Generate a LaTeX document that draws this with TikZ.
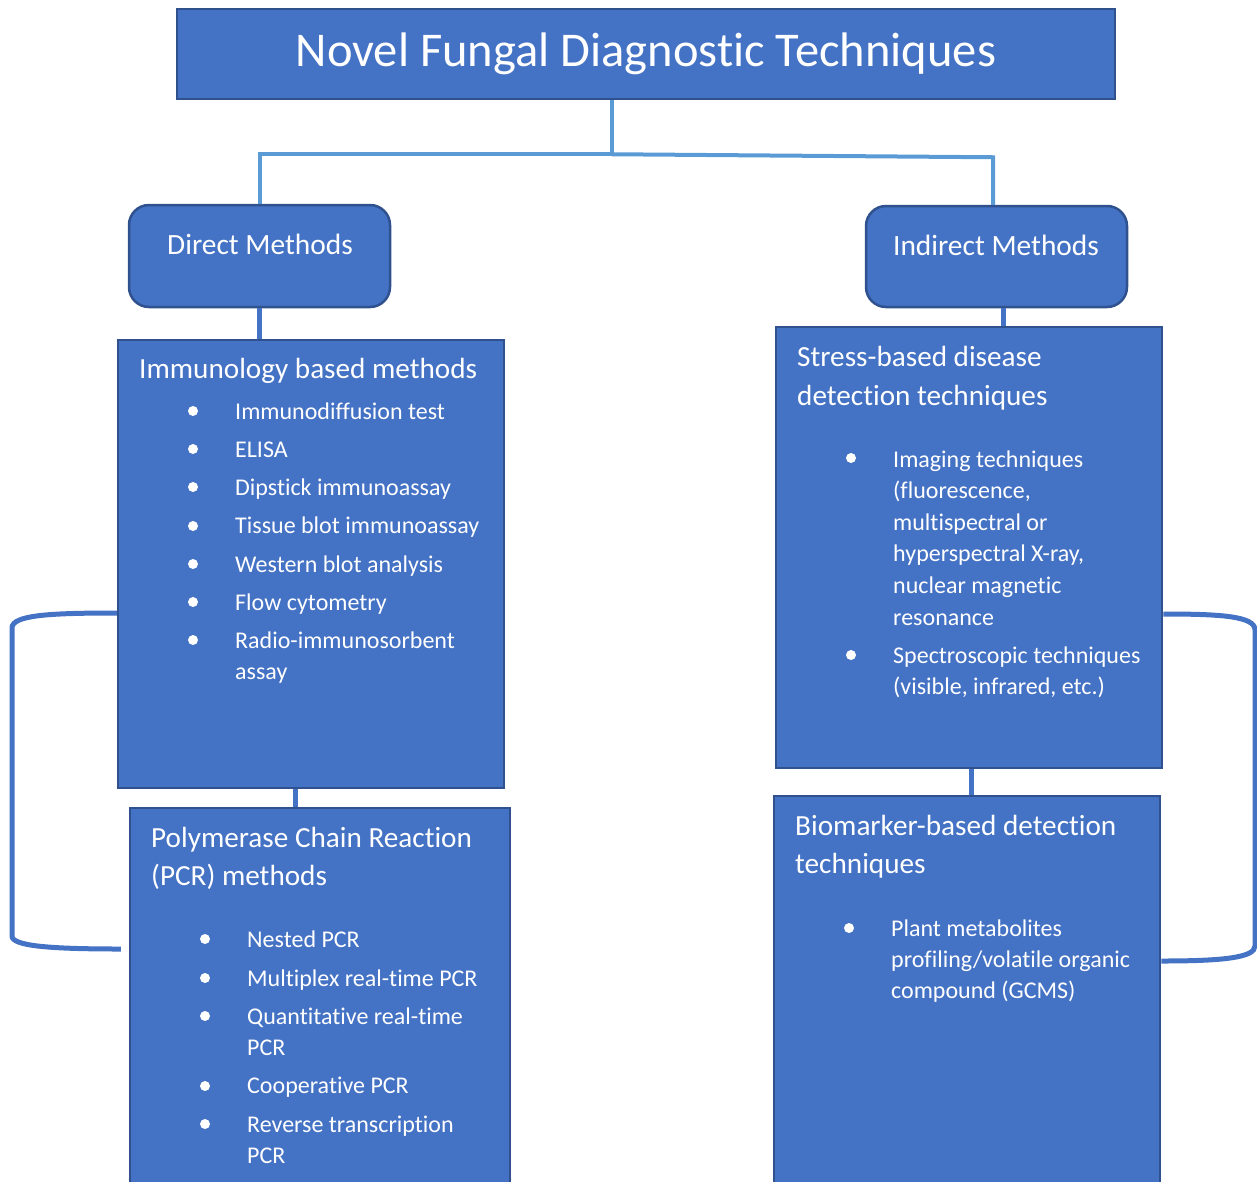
\documentclass[tikz,border=0pt]{standalone}
\usepackage{fontspec}
\setmainfont{Carlito}[RawFeature={-liga;-calt;-clig;-dlig}]
\definecolor{boxfill}{HTML}{4472C4}
\definecolor{boxline}{HTML}{2F528F}
\definecolor{topline}{HTML}{5B9BD5}
\tikzset{
  box/.style={draw=boxline, line width=2.5pt, fill=boxfill, inner sep=0pt},
  rbox/.style={box, rounded corners=20pt},
  ttl/.style={text=white, inner sep=0pt, anchor=base, font=\fontsize{48.5}{52}\selectfont},
  sub/.style={text=white, inner sep=0pt, anchor=base, font=\fontsize{29.4}{33}\selectfont},
  head/.style={text=white, inner sep=0pt, anchor=base west, font=\fontsize{29.2}{33}\selectfont},
  item/.style={text=white, inner sep=0pt, anchor=base west, font=\fontsize{24}{28}\selectfont},
  bullet/.style={circle, fill=white, inner sep=0pt, minimum size=10pt},
  tconn/.style={draw=topline, line width=4pt},
  conn/.style={draw=boxfill, line width=5pt},
  brk/.style={draw=boxfill, line width=5pt}
}
\begin{document}
\begin{tikzpicture}[x=1pt,y=-1pt]
\useasboundingbox (0,0) rectangle (1257,1181);
\clip (0,0) rectangle (1257,1181);
% boxes
\node[box, minimum width=938pt, minimum height=90pt] (title) at (646,54) {};
\node[rbox, minimum width=261pt, minimum height=102pt] (direct) at (259.5,256) {};
\node[rbox, minimum width=261pt, minimum height=101pt] (indirect) at (996.5,256.5) {};
\node[box, minimum width=386pt, minimum height=448pt] (imm) at (311,564) {};
\node[box, minimum width=380pt, minimum height=392pt] (pcr) at (320,1004) {};
\node[box, minimum width=386pt, minimum height=441pt] (stress) at (969,547.5) {};
\node[box, minimum width=386pt, minimum height=404pt] (bio) at (967,998) {};
% connectors
\draw[tconn] ([xshift=-34pt]title.south) -- ++(0,54) coordinate (hub);
\draw[tconn] (hub) -- ++(-352,0) coordinate (hubl) -- (hubl |- direct.north);
\draw[tconn] (hub) -- ++(381,3) coordinate (hubr) -- (hubr |- indirect.north);
\draw[conn] (direct.south) -- (direct.south |- imm.north);
\draw[conn] ([xshift=6.5pt]indirect.south) -- ([xshift=6.5pt]indirect.south |- stress.north);
\draw[conn] ([xshift=-16pt]imm.south) -- ([xshift=-16pt]imm.south |- pcr.north);
\draw[conn] ([xshift=2pt]stress.south) -- ([xshift=2pt]stress.south |- bio.north);
% brackets
\draw[brk] ([yshift=-49pt]imm.west) .. controls (50,613) and (12,615) .. (12,628) -- (12,936) .. controls (12,946) and (50,949) .. ([xshift=-8pt,yshift=55pt]pcr.west);
\draw[brk] ([yshift=-66.5pt]stress.east) .. controls (1220,614) and (1255,616) .. (1255,630) -- (1255,946) .. controls (1255,958) and (1220,961) .. ([yshift=37pt]bio.east);
% texts
\node[ttl] (ttext) at (646,66) {Novel Fungal Diagnostic Techniques};
\node[sub] (dtext) at (260,254) {Direct Methods};
\node[sub] (itext) at (996,255) {Indirect Methods};
\node[head] (immh) at (139,378) {Immunology based methods};
\foreach \t/\y [count=\i] in {{Immunodiffusion test}/419,{ELISA}/457,{Dipstick immunoassay}/495,{Tissue blot immunoassay}/533,{Western blot analysis}/572,{Flow cytometry}/610,{Radio-immunosorbent}/648,{assay}/679}
  \node[item] (immi\i) at (235,\y) {\t};
\foreach \y [count=\i] in {411,449,487,526,564,602,640}
  \node[bullet] (immb\i) at (193,\y) {};
\node[head] (pcrh1) at (151,847) {Polymerase Chain Reaction};
\node[head] (pcrh2) at (151,885) {(PCR) methods};
\foreach \t/\y [count=\i] in {{Nested PCR}/947,{Multiplex real-time PCR}/986,{Quantitative real-time}/1024,{PCR}/1055,{Cooperative PCR}/1093,{Reverse transcription}/1132,{PCR}/1163}
  \node[item] (pcri\i) at (247,\y) {\t};
\foreach \y [count=\i] in {939,978,1016,1086,1124}
  \node[bullet] (pcrb\i) at (205,\y) {};
\node[head] (sth1) at (797,366) {Stress-based disease};
\node[head] (sth2) at (797,405) {detection techniques};
\foreach \t/\y [count=\i] in {{Imaging techniques}/467,{(fluorescence,}/498,{multispectral or}/530,{hyperspectral X-ray,}/561,{nuclear magnetic}/593,{resonance}/625,{Spectroscopic techniques}/663,{(visible, infrared, etc.)}/694}
  \node[item] (sti\i) at (893,\y) {\t};
\foreach \y [count=\i] in {458,655}
  \node[bullet] (stb\i) at (851,\y) {};
\node[head] (bioh1) at (795,835) {Biomarker-based detection};
\node[head] (bioh2) at (795,873) {techniques};
\foreach \t/\y [count=\i] in {{Plant metabolites}/936,{profiling/volatile organic}/967,{compound (GCMS)}/998}
  \node[item] (bioi\i) at (891,\y) {\t};
\node[bullet] (biob1) at (849,928) {};
\end{tikzpicture}
\end{document}
